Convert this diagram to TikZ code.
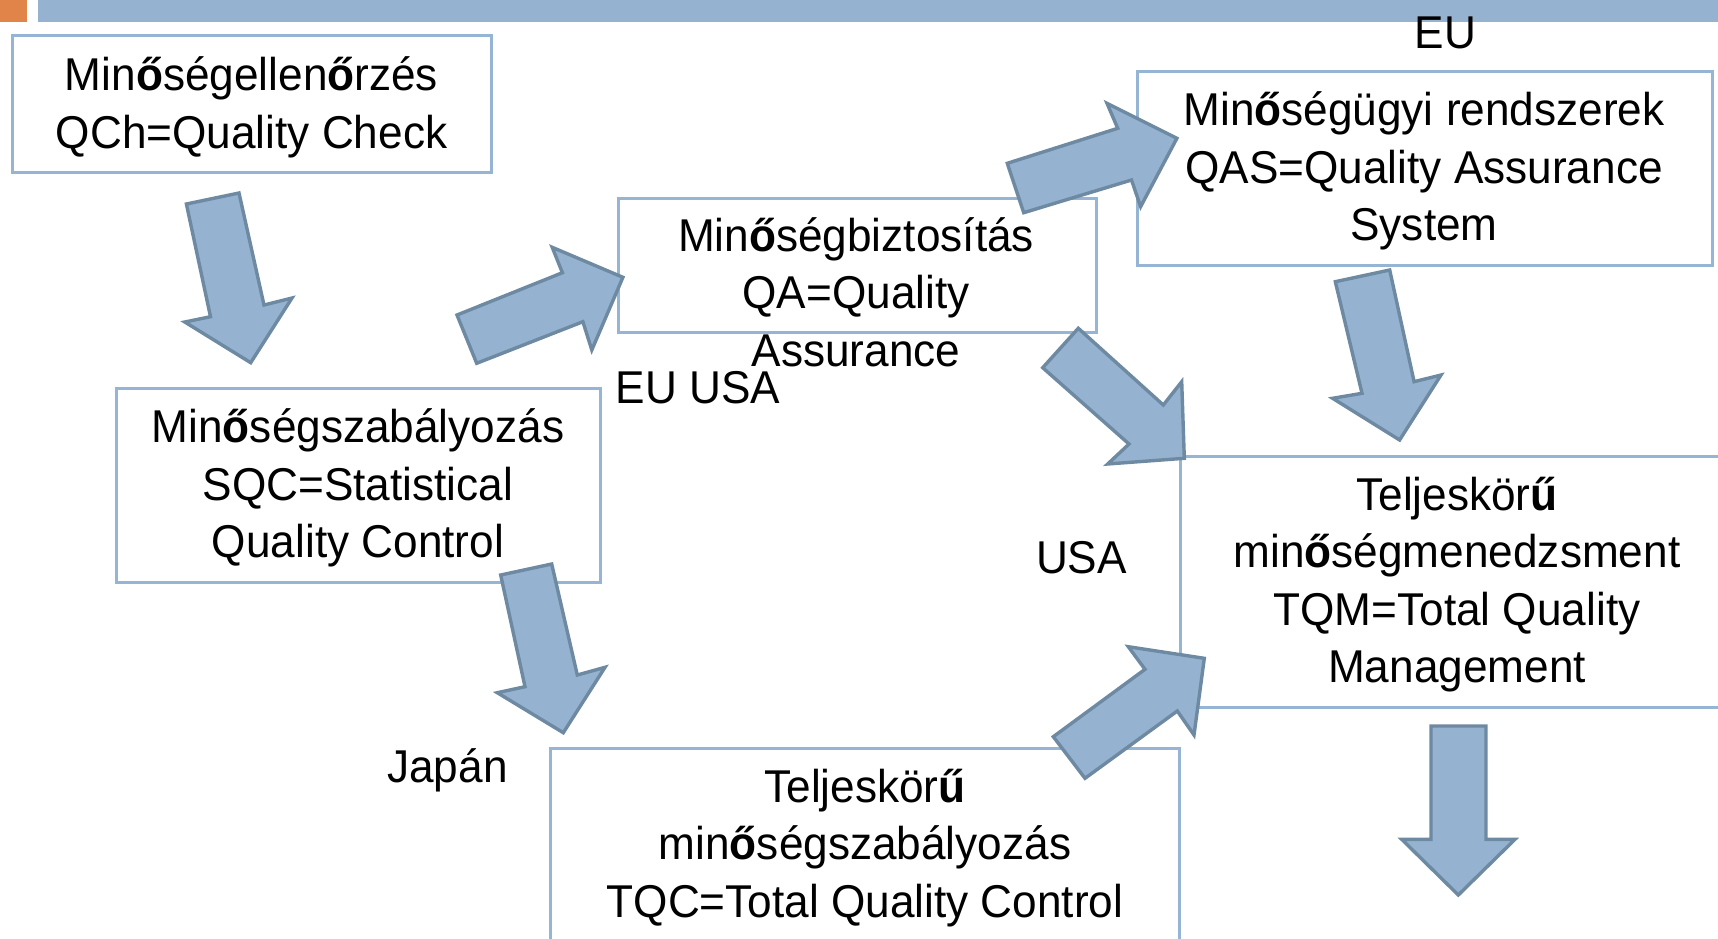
\documentclass[tikz,border=0pt]{standalone}
\usepackage{fontspec}
\setmainfont[FakeStretch=0.96]{Liberation Sans}
\usetikzlibrary{fit}
\definecolor{barblue}{RGB}{149,179,208}
\definecolor{arrowline}{RGB}{110,138,162}
\definecolor{boxline}{RGB}{150,181,212}
\definecolor{barorange}{RGB}{224,132,74}
\tikzset{
	box/.style = {draw=boxline, line width=1.5pt, rectangle, inner sep=0pt},
	txt/.style = {align=center, inner sep=0pt, anchor=base, font=\fontsize{23}{28.75}\selectfont},
	bigarrow/.style = {fill=barblue, draw=arrowline, line width=1.7pt}
}

\begin{document}
\begin{tikzpicture}[x=0.5pt, y=-0.5pt]
    \useasboundingbox (0,0) rectangle (1718,938);
    \clip (0,0) rectangle (1718,938);
    % header bar
    \fill [barorange] (0,0) rectangle (27,22);
    \fill [barblue] (38,0) rectangle (1718,22);

    % the boxes
    \node [box, fit={(12,35) (491,172)}] (qch) {};
    \node [box, fit={(116,388) (600,582)}] (sqc) {};
    \node [box, fit={(618,198) (1096,332)}] (qa) {};
    \node [box, fit={(1137,71) (1712,265)}] (qas) {};
    \node [box, fit={(1180,456) (1760,707)}] (tqm) {};
    \node [box, fit={(550,748) (1179,980)}] (tqc) {};

    % the block arrows between them
    \draw [bigarrow] (186.4,204) -- (239,193) -- (264,305) -- (292,298)
        -- (250.7,362.7) -- (184.8,322) -- (210.5,316.7) -- cycle;
    \draw [bigarrow] (457,315) -- (562.4,272.7) -- (552.2,247.3) -- (622.9,277.3)
        -- (591.8,350) -- (582.9,321.7) -- (476.7,363.3) -- cycle;
    \draw [bigarrow] (1007.3,163.3) -- (1117.7,128.3) -- (1107,103.3) -- (1176.9,138.3)
        -- (1140.6,206.7) -- (1131.5,180) -- (1023.7,212.7) -- cycle;
    \draw [bigarrow] (1335.3,281.7) -- (1389.7,270) -- (1414.1,381.7) -- (1441,375)
        -- (1399.6,440) -- (1332.6,398.3) -- (1362,393.3) -- cycle;
    \draw [bigarrow] (1078.3,328.3) -- (1163.3,405) -- (1181.7,381.7) -- (1184.3,458.3)
        -- (1107.7,464) -- (1129,444) -- (1042.7,367.7) -- cycle;
    \draw [bigarrow] (500.7,575) -- (551.7,564) -- (577.3,675) -- (605,667.3)
        -- (563.3,732.7) -- (497.3,692.7) -- (525,686.7) -- cycle;
    \draw [bigarrow] (1053.3,736.7) -- (1145,669.3) -- (1128.3,646.7) -- (1204.3,658.3)
        -- (1194,735) -- (1177.3,711) -- (1085,778.3) -- cycle;
    \draw [bigarrow] (1431,726) -- (1486,726) -- (1486,839.3) -- (1515,839.3)
        -- (1458.3,895) -- (1401.7,839.3) -- (1431,839.3) -- cycle;

    % texts of the boxes (placed at the baseline of their last line)
    \node [txt] (qchtext) at (251.5,148) {Min\textbf{ő}ségellen\textbf{ő}rzés\\QCh=Quality Check};
    \node [txt] (sqctext) at (358,557.5) {Min\textbf{ő}ségszabályozás\\SQC=Statistical\\Quality Control};
    \node [txt] (qatext) at (856,366) {Min\textbf{ő}ségbiztosítás\\QA=Quality\\Assurance};
    \node [txt] (qastext) at (1424,240.7) {Min\textbf{ő}ségügyi rendszerek\\QAS=Quality Assurance\\System};
    \node [txt] (tqmtext) at (1457,682.7) {Teljeskör\textbf{ű}\\min\textbf{ő}ségmenedzsment\\TQM=Total Quality\\Management};
    \node [txt] (tqctext) at (865,917) {Teljeskör\textbf{ű}\\min\textbf{ő}ségszabályozás\\TQC=Total Quality Control};

    % where it comes from
    \node [txt] (eu) at (1445.5,48.3) {EU};
    \node [txt] (euusa) at (698,403.3) {EU USA};
    \node [txt] (usa) at (1081.5,573) {USA};
    \node [txt] (japan) at (447.5,782) {Japán};
\end{tikzpicture}
\end{document}
